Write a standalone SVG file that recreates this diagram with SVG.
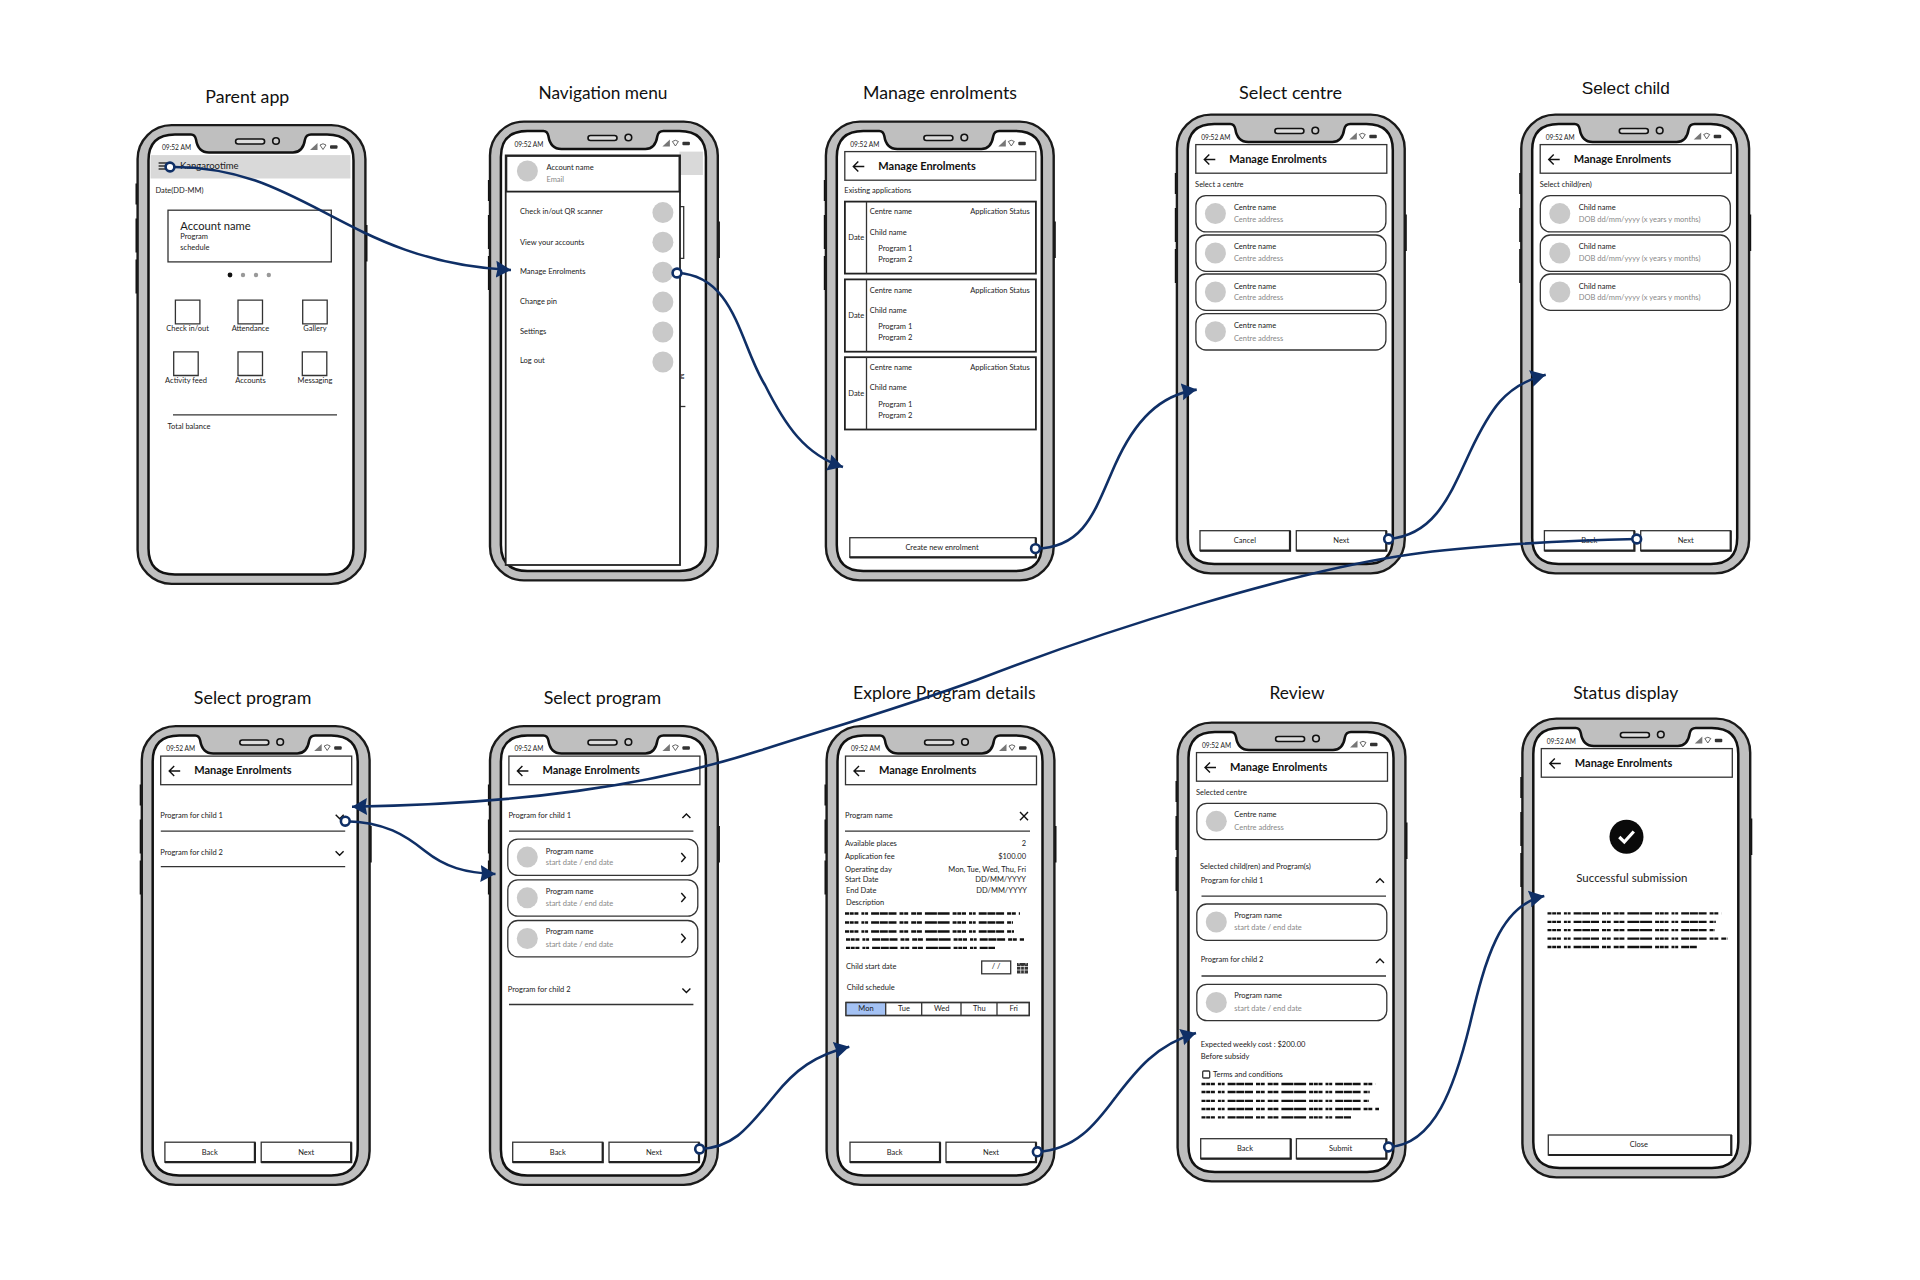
<svg xmlns="http://www.w3.org/2000/svg" width="1920" height="1280" viewBox="0 0 1920 1280">
<style>
text{font-family:Lato,"Liberation Sans",sans-serif;font-size:7.5px;fill:#1a1a1a}
.title{font-size:17.5px;fill:#111;text-anchor:middle}
.arial{font-family:"Liberation Sans",Arial,sans-serif;font-size:17px}
.hd{font-size:11px;font-weight:700;fill:#111}
.time{font-size:6.6px}
.g{fill:#888}
.m{text-anchor:middle}
.e{text-anchor:end}
.box{fill:#fff;stroke:#222;stroke-width:1.8}
.thin{fill:#fff;stroke:#333;stroke-width:1.3}
.ln{fill:none;stroke:#333;stroke-width:1.3}
.ic{fill:none;stroke:#111;stroke-width:1.4}
.av{fill:#c9c9c9}
.greek{fill:none;stroke:#111;stroke-width:2.3;stroke-dasharray:4 .7 4 .7 4 3 3 .7 3 3 8 .7 8 .7 8 3 4 .7 4 3 5 .7 5 3 12 .7 12 3}
.conn{fill:none;stroke:#0f2f66;stroke-width:2.6;marker-start:url(#dot);marker-end:url(#tip)}
</style>
<defs>
<marker id="tip" markerUnits="userSpaceOnUse" markerWidth="16" markerHeight="18" refX="15" refY="9" orient="auto"><path d="M0,0.5L15,9L0,17.5L1.5,9Z" fill="#0f2f66"/></marker>
<marker id="dot" markerUnits="userSpaceOnUse" markerWidth="14" markerHeight="14" refX="7" refY="7" orient="auto"><circle cx="7" cy="7" r="4.4" fill="#fff" stroke="#0f2f66" stroke-width="2.6"/></marker>
<g id="frame">
<path d="M0,59V80M0,94V128M0,135V169M229,100.5V137" stroke="#111" stroke-width="3" fill="none"/>
<rect x=".6" y=".6" width="227.8" height="458.8" rx="34" fill="#bfbfbf" stroke="#1a1a1a" stroke-width="2.4"/>
<path d="M11.5,36Q11.5,10 38,10H54Q58,10 59,15Q61,28 72,28H156Q166,28 168,15Q169,10 174,10H190Q216.5,10 216.5,36V424Q216.5,450 190,450H38Q11.5,450 11.5,424Z" fill="#fff" stroke="#111" stroke-width="2.5"/>
<rect x="98.6" y="14.5" width="29" height="5" rx="2.5" fill="#ddd" stroke="#111" stroke-width="1.6"/>
<circle cx="139" cy="16.5" r="3.3" fill="#ccc" stroke="#111" stroke-width="1.6"/>
<path d="M173,25.5L180.5,18.6V25.5Z" fill="#777"/>
<path d="M183,20.5Q186,18 189,20.5L186,25Z" fill="none" stroke="#555" stroke-width=".9"/>
<rect x="193" y="20.7" width="7.5" height="3.6" rx="1" fill="#333"/>
</g>
<g id="hdr">
<rect x="19.5" y="30.6" width="191" height="28.6" class="thin"/>
<path d="M28,45.5H39M33,40.5L28,45.5L33,50.5" class="ic"/>
</g>
<g id="card">
<rect width="190" height="36.3" rx="10" class="thin"/>
<circle cx="19.5" cy="18" r="10.5" class="av"/>
</g>
<g id="btn">
<rect width="90" height="20" class="thin"/>
<path d="M0,20H90V0" fill="none" stroke="#222" stroke-width="2.2"/>
</g>
<path id="chd" d="M-4,-2L0,2L4,-2" class="ic"/>
<path id="chu" d="M-4,2L0,-2L4,2" class="ic"/>
<path id="chr" d="M-2,-4.5L2,0L-2,4.5" class="ic"/>
<path id="ico" d="M0,0H24.5V23.7H0Z" class="thin"/>
</defs>
<rect width="1920" height="1280" fill="#fff"/>

<g id="node-parent-app" transform="translate(137,124.5)">
<use href="#frame"/>
<text class="title" x="110.3" y="-21.8" textLength="84" lengthAdjust="spacingAndGlyphs">Parent app</text>
<text class="time" x="25" y="25.5">09:52 AM</text>
<rect x="13.5" y="30.6" width="200" height="23.4" fill="#d9d9d9"/>
<path d="M21.6,38.5H30M21.6,41.5H30M21.6,44.5H30" class="ln"/>
<text x="43" y="44.4" style="font-size:9.5px">Kangarootime</text>
<text x="18.4" y="68.9">Date(DD-MM)</text>
<rect x="31" y="85.7" width="163.3" height="51.7" class="thin"/>
<text x="43.3" y="105" style="font-size:11.2px">Account name</text>
<text x="43.3" y="114">Program</text>
<text x="43.3" y="125.7">schedule</text>
<circle cx="93" cy="150.5" r="2.4" fill="#111"/><circle cx="106" cy="150.5" r="2.2" fill="#999"/><circle cx="119" cy="150.5" r="2.2" fill="#999"/><circle cx="131.8" cy="150.5" r="2.2" fill="#999"/>
<use href="#ico" x="38.4" y="175.6"/><use href="#ico" x="101" y="175.6"/><use href="#ico" x="165.7" y="175.6"/>
<use href="#ico" x="36.7" y="227.3"/><use href="#ico" x="101" y="227.3"/><use href="#ico" x="165.3" y="227.3"/>
<text class="m" x="50.6" y="206">Check in/out</text><text class="m" x="113.5" y="206">Attendance</text><text class="m" x="178" y="206">Gallery</text>
<text class="m" x="49" y="258.3">Activity feed</text><text class="m" x="113.5" y="258.3">Accounts</text><text class="m" x="178" y="258.3">Messaging</text>
<path d="M36,290.3H200" class="ln"/>
<text x="30.6" y="304.8">Total balance</text>
</g>

<g id="node-navigation-menu" transform="translate(489.4,121)">
<use href="#frame"/>
<text class="title" x="113.6" y="-21.7" textLength="129" lengthAdjust="spacingAndGlyphs">Navigation menu</text>
<text class="time" x="25" y="25.5">09:52 AM</text>
<rect x="190" y="30.6" width="23.5" height="23.4" fill="#d9d9d9"/>
<path d="M190,85.7H194.3V137.4H190" class="ln"/>
<text x="191" y="256.5">g</text>
<path d="M190,285.5H196" class="ln"/>
<rect x="16.3" y="34.4" width="174.3" height="409.6" class="box"/>
<rect x="17" y="35" width="173" height="35.6" class="box"/>
<circle cx="38" cy="50" r="10.5" class="av"/>
<text x="57" y="48.9">Account name</text>
<text class="g" x="57" y="60.6">Email</text>
<text x="30.6" y="93.3">Check in/out QR scanner</text><circle cx="173.5" cy="91.6" r="10.5" class="av"/>
<text x="30.6" y="123.6">View your accounts</text><circle cx="173.5" cy="121.2" r="10.5" class="av"/>
<text x="30.6" y="152.9">Manage Enrolments</text><circle cx="173.5" cy="151.2" r="10.5" class="av"/>
<text x="30.6" y="183.2">Change pin</text><circle cx="173.5" cy="181.1" r="10.5" class="av"/>
<text x="30.6" y="213.2">Settings</text><circle cx="173.5" cy="211" r="10.5" class="av"/>
<text x="30.6" y="242.4">Log out</text><circle cx="173.5" cy="241" r="10.5" class="av"/>
</g>

<g id="node-manage-enrolments" transform="translate(825.3,121)">
<use href="#frame"/>
<text class="title" x="114.7" y="-21.7" textLength="154" lengthAdjust="spacingAndGlyphs">Manage enrolments</text>
<text class="time" x="25" y="25.5">09:52 AM</text>
<use href="#hdr"/>
<text class="hd" x="53" y="48.5">Manage Enrolments</text>
<text x="19" y="72.3">Existing applications</text>
<rect x="19.6" y="80.6" width="191" height="72" class="box"/><path d="M41.2,80.6V152.6" class="ln"/>
<text class="m" x="31" y="118.5">Date</text><text x="44.5" y="92.6">Centre name</text><text class="e" x="204.5" y="92.6">Application Status</text><text x="44.5" y="113.6">Child name</text><text x="53" y="130">Program 1</text><text x="53" y="141">Program 2</text>
<rect x="19.6" y="158.4" width="191" height="72.3" class="box"/><path d="M41.2,158.4V230.7" class="ln"/>
<text class="m" x="31" y="197">Date</text><text x="44.5" y="171.5">Centre name</text><text class="e" x="204.5" y="171.5">Application Status</text><text x="44.5" y="191.5">Child name</text><text x="53" y="207.6">Program 1</text><text x="53" y="218.7">Program 2</text>
<rect x="19.6" y="236.2" width="191" height="72.3" class="box"/><path d="M41.2,236.2V308.5" class="ln"/>
<text class="m" x="31" y="274.8">Date</text><text x="44.5" y="249">Centre name</text><text class="e" x="204.5" y="249">Application Status</text><text x="44.5" y="269">Child name</text><text x="53" y="285.5">Program 1</text><text x="53" y="296.5">Program 2</text>
<rect x="24.5" y="416.7" width="186" height="19.6" class="thin"/><path d="M24.5,436.3H210.5V416.7" fill="none" stroke="#222" stroke-width="2.2"/>
<text class="m" x="116.7" y="429">Create new enrolment</text>
</g>

<g id="node-select-centre" transform="translate(1176.3,114)">
<use href="#frame"/>
<text class="title" x="114.3" y="-14.7" textLength="103" lengthAdjust="spacingAndGlyphs">Select centre</text>
<text class="time" x="25" y="25.5">09:52 AM</text>
<use href="#hdr"/>
<text class="hd" x="53" y="48.5">Manage Enrolments</text>
<text x="18.8" y="73.3">Select a centre</text>
<use href="#card" x="19.6" y="81.6"/><text x="57.6" y="96">Centre name</text><text class="g" x="57.6" y="107.8">Centre address</text>
<use href="#card" x="19.6" y="121"/><text x="57.6" y="135.3">Centre name</text><text class="g" x="57.6" y="147">Centre address</text>
<use href="#card" x="19.6" y="160"/><text x="57.6" y="174.6">Centre name</text><text class="g" x="57.6" y="186.3">Centre address</text>
<use href="#card" x="19.6" y="199.7"/><text x="57.6" y="213.8">Centre name</text><text class="g" x="57.6" y="226.6">Centre address</text>
<use href="#btn" x="23.7" y="416.7"/><use href="#btn" x="120" y="416.7"/>
<text class="m" x="68.6" y="428.6">Cancel</text><text class="m" x="165" y="428.6">Next</text>
</g>

<g id="node-select-child" transform="translate(1520.7,114)">
<use href="#frame"/>
<text class="title arial" x="105" y="-20" textLength="88" lengthAdjust="spacingAndGlyphs">Select child</text>
<text class="time" x="25" y="25.5">09:52 AM</text>
<use href="#hdr"/>
<text class="hd" x="53" y="48.5">Manage Enrolments</text>
<text x="19" y="73.3">Select child(ren)</text>
<use href="#card" x="19.6" y="81.6"/><text x="58" y="96">Child name</text><text class="g" x="58" y="107.8">DOB dd/mm/yyyy (x years y months)</text>
<use href="#card" x="19.6" y="121"/><text x="58" y="135.3">Child name</text><text class="g" x="58" y="147">DOB dd/mm/yyyy (x years y months)</text>
<use href="#card" x="19.6" y="160"/><text x="58" y="174.6">Child name</text><text class="g" x="58" y="186.3">DOB dd/mm/yyyy (x years y months)</text>
<use href="#btn" x="23.7" y="416.7"/><use href="#btn" x="120" y="416.7"/>
<text class="m" x="68.6" y="428.6">Back</text><text class="m" x="165" y="428.6">Next</text>
</g>

<g id="node-select-program-1" transform="translate(141.2,725.5)">
<use href="#frame"/>
<text class="title" x="111.4" y="-21.5" textLength="117.5" lengthAdjust="spacingAndGlyphs">Select program</text>
<text class="time" x="25" y="25.5">09:52 AM</text>
<use href="#hdr"/>
<text class="hd" x="53" y="48.5">Manage Enrolments</text>
<text x="19" y="92.3">Program for child 1</text><use href="#chd" x="198.5" y="91.3"/><path d="M19.6,105.7H204" class="ln"/>
<text x="19" y="129.1">Program for child 2</text><use href="#chd" x="198.4" y="127.8"/><path d="M19.6,141.2H204" class="ln"/>
<use href="#btn" x="23.7" y="416.7"/><use href="#btn" x="120" y="416.7"/>
<text class="m" x="68.6" y="429">Back</text><text class="m" x="165" y="429">Next</text>
</g>

<g id="node-select-program-2" transform="translate(489.4,725.5)">
<use href="#frame"/>
<text class="title" x="113" y="-21.5" textLength="117.5" lengthAdjust="spacingAndGlyphs">Select program</text>
<text class="time" x="25" y="25.5">09:52 AM</text>
<use href="#hdr"/>
<text class="hd" x="53" y="48.5">Manage Enrolments</text>
<text x="19" y="92.3">Program for child 1</text><use href="#chu" x="197" y="90.6"/><path d="M19.6,105.7H204" class="ln"/>
<use href="#card" x="18.4" y="113.6"/><text x="56.3" y="128">Program name</text><text class="g" x="56.3" y="139.8">start date / end date</text><use href="#chr" x="193.9" y="132"/>
<use href="#card" x="18.4" y="154.3"/><text x="56.3" y="168.4">Program name</text><text class="g" x="56.3" y="180">start date / end date</text><use href="#chr" x="193.9" y="172"/>
<use href="#card" x="18.4" y="195"/><text x="56.3" y="208.7">Program name</text><text class="g" x="56.3" y="221.4">start date / end date</text><use href="#chr" x="193.9" y="212.8"/>
<text x="18.4" y="266">Program for child 2</text><use href="#chd" x="197" y="265"/><path d="M19.6,279H204" class="ln"/>
<use href="#btn" x="23.3" y="416.7"/><use href="#btn" x="119.6" y="416.7"/>
<text class="m" x="68.4" y="429">Back</text><text class="m" x="164.6" y="429">Next</text>
</g>

<g id="node-explore-program" transform="translate(826,725.5)">
<use href="#frame"/>
<text class="title" x="118.3" y="-26.5" textLength="182.6" lengthAdjust="spacingAndGlyphs">Explore Program details</text>
<text class="time" x="25" y="25.5">09:52 AM</text>
<use href="#hdr"/>
<text class="hd" x="53" y="48.5">Manage Enrolments</text>
<text x="19" y="92.6">Program name</text><path d="M194,86.5L202,94.7M202,86.5L194,94.7" class="ic"/><path d="M19,105.7H204" class="ln"/>
<text x="19" y="120">Available places</text><text class="e" x="200" y="120">2</text>
<text x="19" y="133.9">Application fee</text><text class="e" x="200" y="133.9">$100.00</text>
<text x="19" y="146">Operating day</text><text class="e" x="200" y="146">Mon, Tue, Wed, Thu, Fri</text>
<text x="19" y="156.7">Start Date</text><text class="e" x="200" y="156.7">DD/MM/YYYY</text>
<text x="20" y="167.7">End Date</text><text class="e" x="201" y="167.7">DD/MM/YYYY</text>
<text x="20" y="179.4">Description</text>
<path class="greek" d="M19,188H194M19,197H187M19,206H188M20,214H198M20,222.4H169"/>
<text x="20" y="243.5">Child start date</text>
<rect x="155.7" y="235.5" width="29" height="12.8" class="thin"/><text class="m" x="170" y="243.5">/ /</text>
<rect x="191" y="237.5" width="11" height="10.5" fill="#333"/><path d="M193,236V239M200,236V239M191,241H202M191,244.5H202M194.7,240V248M198.3,240V248" stroke="#fff" stroke-width=".7" fill="none"/>
<text x="20.7" y="264">Child schedule</text>
<rect x="20" y="277" width="183.3" height="13" class="thin"/><rect x="20" y="277" width="39.7" height="13" fill="#a4c2f4"/>
<path d="M20,277H203.3V290H20ZM59.7,277V290M95.7,277V290M135,277V290M171,277V290" class="ln"/>
<text class="m" x="40" y="285.5">Mon</text><text class="m" x="78" y="285.5">Tue</text><text class="m" x="115.7" y="285.5">Wed</text><text class="m" x="153.3" y="285.5">Thu</text><text class="m" x="187.7" y="285.5">Fri</text>
<use href="#btn" x="24" y="416.7"/><use href="#btn" x="120" y="416.7"/>
<text class="m" x="68.6" y="429">Back</text><text class="m" x="165" y="429">Next</text>
</g>

<g id="node-review" transform="translate(1177,722)">
<use href="#frame"/>
<text class="title" x="120" y="-23" textLength="55" lengthAdjust="spacingAndGlyphs">Review</text>
<text class="time" x="25" y="25.5">09:52 AM</text>
<use href="#hdr"/>
<text class="hd" x="53" y="48.5">Manage Enrolments</text>
<text x="19" y="73">Selected centre</text>
<use href="#card" x="19.8" y="81.3"/><text x="57.3" y="95">Centre name</text><text class="g" x="57.3" y="107.8">Centre address</text>
<text x="23" y="147.4">Selected child(ren) and Program(s)</text>
<text x="23.7" y="160.8">Program for child 1</text><use href="#chu" x="203" y="158.8"/><path d="M24.5,174.2H209" class="ln"/>
<use href="#card" x="19.8" y="182"/><text x="57.3" y="196.3">Program name</text><text class="g" x="57.3" y="208.3">start date / end date</text>
<text x="23.7" y="240.4">Program for child 2</text><use href="#chu" x="203" y="239"/><path d="M24.5,254H209" class="ln"/>
<use href="#card" x="19.8" y="262.4"/><text x="57.3" y="275.9">Program name</text><text class="g" x="57.3" y="289">start date / end date</text>
<text x="23.7" y="324.7">Expected weekly cost : $200.00</text>
<text x="23.7" y="336.8">Before subsidy</text>
<rect x="25.7" y="349" width="7" height="7" rx="1" class="thin"/>
<text x="36" y="354.7">Terms and conditions</text>
<path class="greek" d="M24.5,362H198.4M24.5,370H192.7M24.5,378.8H192M24.5,387H202M24.5,395.3H174"/>
<use href="#btn" x="23.7" y="416.7"/><use href="#btn" x="119.4" y="416.7"/>
<text class="m" x="68" y="428.7">Back</text><text class="m" x="163.6" y="428.7">Submit</text>
</g>

<g id="node-status-display" transform="translate(1521.8,718)">
<use href="#frame"/>
<text class="title" x="103.9" y="-19" textLength="105" lengthAdjust="spacingAndGlyphs">Status display</text>
<text class="time" x="25" y="25.5">09:52 AM</text>
<use href="#hdr"/>
<text class="hd" x="53" y="48.5">Manage Enrolments</text>
<circle cx="104.7" cy="118.8" r="17" fill="#0a0a0a"/>
<path d="M97.5,119L102.5,124L112,113.5" fill="none" stroke="#fff" stroke-width="3.2"/>
<text class="m" x="110" y="164" style="font-size:11.5px">Successful submission</text>
<path class="greek" d="M25.7,195.3H199.6M25.7,203.9H194M25.7,212.1H193M25.7,220.7H205.6M25.7,229H175"/>
<rect x="26.5" y="417" width="183" height="20" class="thin"/><path d="M26.5,437H209.5V417" fill="none" stroke="#222" stroke-width="2.2"/>
<text class="m" x="117" y="429">Close</text>
</g>

<g id="connectors">
<path class="conn" d="M170,167C305,165 345,262 511,270"/>
<path class="conn" d="M677,273C735,275 740,345 765,385C785,425 805,455 843,467"/>
<path class="conn" d="M1035.5,548.6C1085,548 1095,510 1115,465C1135,420 1160,395 1196.7,389.6"/>
<path class="conn" d="M1388.6,539C1435,535 1450,495 1470,452C1490,410 1505,385 1545.7,374.8"/>
<path class="conn" d="M1636.7,539C1540,541 1450,548 1400,556C1290,573 1110,628 976.7,680C900,708 830,728 760,750.6C650,786 520,804 352,806.7"/>
<path class="conn" d="M345.3,821.2C385,822 405,835 425,851C445,867 465,873 495.5,874"/>
<path class="conn" d="M699.6,1149C735,1148 750,1125 775,1095C795,1070 815,1055 849.3,1046.7"/>
<path class="conn" d="M1037.3,1151.8C1075,1150 1095,1125 1115,1098C1135,1072 1155,1045 1196,1033"/>
<path class="conn" d="M1388.6,1147C1435,1145 1455,1085 1470,1024C1485,960 1500,905 1544.3,896"/>
</g>
</svg>
